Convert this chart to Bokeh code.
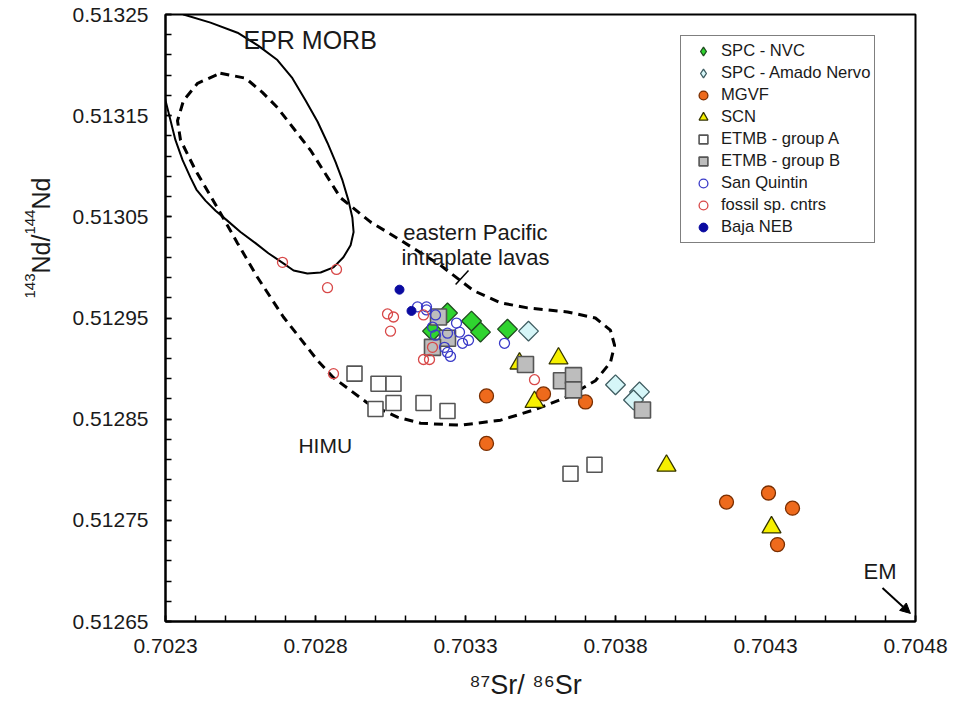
import numpy as np
from bokeh.plotting import figure
from bokeh.layouts import row
from bokeh.models import (Range1d, FixedTicker, PrintfTickFormatter, Legend, LegendItem,
                          Label, Arrow, NormalHead)
from bokeh.embed import file_html
from bokeh.resources import INLINE

FONT = "Liberation Sans"
INK = "#1a1a1a"

# ---------------- data (87Sr/86Sr , 143Nd/144Nd) ----------------
nvc_sr = [0.70324, 0.70332, 0.70335, 0.70344, 0.70319]
nvc_nd = [0.512955, 0.512947, 0.512936, 0.512939, 0.512937]

an_sr = [0.70351, 0.70380, 0.70388, 0.70386]
an_nd = [0.512937, 0.512884, 0.512877, 0.512869]

mgvf_sr = [0.70337, 0.70337, 0.70356, 0.70370, 0.70417, 0.70431, 0.70439, 0.70434]
mgvf_nd = [0.512873, 0.512826, 0.512875, 0.512867, 0.512768, 0.512777, 0.512762, 0.512726]

scn_sr = [0.70361, 0.70348, 0.70353, 0.70397, 0.70432]
scn_nd = [0.512910, 0.512905, 0.512867, 0.512804, 0.512743]

etmbA_sr = [0.70293, 0.70301, 0.70306, 0.70300, 0.70306, 0.70316, 0.70324, 0.70365, 0.70373]
etmbA_nd = [0.512895, 0.512885, 0.512885, 0.512860, 0.512866, 0.512866, 0.512858, 0.512796, 0.512805]

etmbB_sr = [0.70321, 0.70324, 0.70319, 0.70350, 0.70362, 0.70366, 0.70366, 0.70389]
etmbB_nd = [0.512951, 0.512930, 0.512921, 0.512904, 0.512888, 0.512893, 0.512879, 0.512859]

sq_sr = [0.70314, 0.70317, 0.70320, 0.70327, 0.70328, 0.70329, 0.70331, 0.70324, 0.70325,
         0.70320, 0.70319, 0.70324, 0.70343, 0.70323, 0.70317]
sq_nd = [0.512961, 0.512961, 0.512953, 0.512945, 0.512936, 0.512925, 0.512928, 0.512916, 0.512912,
         0.512933, 0.512941, 0.512935, 0.512925, 0.512921, 0.512958]

fos_sr = [0.70269, 0.70287, 0.70284, 0.70304, 0.70306, 0.70305, 0.70286, 0.70316, 0.70316,
          0.70318, 0.70353, 0.70319]
fos_nd = [0.513005, 0.512998, 0.512980, 0.512954, 0.512951, 0.512937, 0.512895, 0.512953, 0.512909,
          0.512909, 0.512889, 0.512921]

neb_sr = [0.70308, 0.70312]
neb_nd = [0.512978, 0.512957]

# EPR MORB field (solid outline; the part beyond the axes is clipped)
epr_sr = [0.70225, 0.70236, 0.70245, 0.70254, 0.70261, 0.702673, 0.702723, 0.702767, 0.702807,
          0.70284, 0.702867, 0.70289, 0.70291, 0.702923, 0.702927, 0.702917, 0.702893, 0.70286,
          0.702817, 0.702773, 0.702727, 0.702693, 0.702643, 0.70260, 0.70255, 0.702507, 0.702467,
          0.702433, 0.702403, 0.702383, 0.702357, 0.702333, 0.702317, 0.70230, 0.702277, 0.70225]
epr_nd = [0.513284, 0.513250, 0.513242, 0.513232, 0.513219, 0.513205, 0.513187, 0.513165, 0.513144,
          0.513123, 0.513104, 0.513086, 0.513066, 0.513049, 0.513035, 0.513022, 0.513010, 0.513000,
          0.512995, 0.512994, 0.512997, 0.513004, 0.513014, 0.513024, 0.513035, 0.513046, 0.513056,
          0.513066, 0.513077, 0.513089, 0.513106, 0.513126, 0.513145, 0.513165, 0.513195, 0.513284]

# eastern Pacific intraplate lavas field (dashed outline)
env_sr = [0.702483, 0.702567, 0.702623, 0.702673, 0.702783, 0.702883, 0.702983, 0.703083, 0.703217,
          0.703327, 0.703417, 0.703507, 0.703640, 0.703733, 0.703783, 0.703797, 0.703783, 0.703733,
          0.703640, 0.703527, 0.703417, 0.703283, 0.703150, 0.703073, 0.702973, 0.702860, 0.702807,
          0.702693, 0.702607, 0.702540, 0.702473, 0.702400, 0.702350, 0.702340, 0.702360, 0.702407,
          0.702483]
env_nd = [0.513192, 0.513187, 0.513173, 0.513158, 0.513116, 0.513069, 0.513045, 0.513027, 0.513002,
          0.512977, 0.512965, 0.512960, 0.512956, 0.512950, 0.512938, 0.512923, 0.512906, 0.512888,
          0.512872, 0.512859, 0.512849, 0.512844, 0.512846, 0.512852, 0.512866, 0.512891, 0.512908,
          0.512951, 0.512990, 0.513024, 0.513059, 0.513096, 0.513126, 0.513145, 0.513165, 0.513182,
          0.513192]

x_ticks = [0.7023, 0.7028, 0.7033, 0.7038, 0.7043, 0.7048]
y_ticks = [0.51265, 0.51275, 0.51285, 0.51295, 0.51305, 0.51315, 0.51325]

H = 708

# ---------------- main figure ----------------
p = figure(width=890, height=H, output_backend="svg", toolbar_location=None,
           x_range=Range1d(0.7023, 0.7048), y_range=Range1d(0.51265, 0.51325),
           min_border_left=105, min_border_right=35, min_border_top=14, min_border_bottom=87,
           background_fill_color="white", border_fill_color="white")
p.xgrid.visible = False
p.ygrid.visible = False
p.outline_line_color = "black"
p.outline_line_width = 2

p.xaxis.ticker = FixedTicker(ticks=x_ticks,
                             minor_ticks=[round(v, 4) for v in np.arange(0.7023, 0.70481, 0.0001)])
p.yaxis.ticker = FixedTicker(ticks=y_ticks,
                             minor_ticks=[round(v, 5) for v in np.arange(0.51265, 0.513251, 0.00002)])
p.xaxis.formatter = PrintfTickFormatter(format="%.4f")
p.yaxis.formatter = PrintfTickFormatter(format="%.5f")
for ax in (p.xaxis[0], p.yaxis[0]):
    ax.axis_line_color = "black"
    ax.axis_line_width = 2
    ax.major_tick_in = 6
    ax.major_tick_out = 0
    ax.minor_tick_in = 6
    ax.minor_tick_out = 0
    ax.major_tick_line_width = 1.5
    ax.minor_tick_line_width = 1.5
    ax.major_tick_line_color = "black"
    ax.minor_tick_line_color = "black"
    ax.major_label_text_font = FONT
    ax.major_label_text_font_size = "21px"
    ax.major_label_text_color = INK
    ax.axis_label_text_font = FONT
    ax.axis_label_text_font_size = "27px"
    ax.axis_label_text_font_style = "normal"
    ax.axis_label_text_color = INK
p.xaxis.major_label_standoff = 17
p.yaxis.major_label_standoff = 17
p.xaxis.axis_label = "\u2078\u2077Sr/ \u2078\u2076Sr\u00a0\u00a0\u00a0\u00a0"
p.xaxis.axis_label_standoff = 14

# ---------------- fields ----------------
p.line(epr_sr, epr_nd, line_color="black", line_width=2)
p.line(env_sr, env_nd, line_color="black", line_width=3, line_dash="9 6")

# ---------------- samples ----------------
r_scn = p.scatter(scn_sr, scn_nd, marker="triangle", size=19, fill_color="#f6f000",
                  line_color="#333300", line_width=1.3)
r_mgvf = p.scatter(mgvf_sr, mgvf_nd, marker="circle", size=14, fill_color="#ee6a1c",
                   line_color="#7a2e00", line_width=1.3)
# diamond-shaped legend swatches (hidden underneath the plotted diamonds)
k_nvc = p.scatter(nvc_sr, nvc_nd, marker="diamond", size=13, fill_color="#2fd42f",
                  line_color="#1f4a1f", line_width=1.3)
k_an = p.scatter(an_sr, an_nd, marker="diamond", size=13, fill_color="#d6f6f8",
                 line_color="#3e5c60", line_width=1.3)
r_nvc = p.scatter(nvc_sr, nvc_nd, marker="square", angle=np.pi / 4, size=14, fill_color="#2fd42f",
                  line_color="#1f4a1f", line_width=1.3)
r_an = p.scatter(an_sr, an_nd, marker="square", angle=np.pi / 4, size=14, fill_color="#d6f6f8",
                 line_color="#3e5c60", line_width=1.3)
r_a = p.scatter(etmbA_sr, etmbA_nd, marker="square", size=15, fill_color="white",
                line_color="#555555", line_width=1.6)
r_b = p.scatter(etmbB_sr, etmbB_nd, marker="square", size=16, fill_color="#bdbdbd",
                line_color="#555555", line_width=1.6)
r_sq = p.scatter(sq_sr, sq_nd, marker="circle", size=10, fill_color=None,
                 line_color="#3a3ac8", line_width=1.3)
r_fos = p.scatter(fos_sr, fos_nd, marker="circle", size=10, fill_color=None,
                  line_color="#d84848", line_width=1.3)
r_neb = p.scatter(neb_sr, neb_nd, marker="circle", size=9, fill_color="#0a0aa0",
                  line_color="#0a0aa0", line_width=1)

legend = Legend(items=[
    LegendItem(label="SPC - NVC", renderers=[k_nvc]),
    LegendItem(label="SPC - Amado Nervo", renderers=[k_an]),
    LegendItem(label="MGVF", renderers=[r_mgvf]),
    LegendItem(label="SCN", renderers=[r_scn]),
    LegendItem(label="ETMB - group A", renderers=[r_a]),
    LegendItem(label="ETMB - group B", renderers=[r_b]),
    LegendItem(label="San Quintin", renderers=[r_sq]),
    LegendItem(label="fossil sp. cntrs", renderers=[r_fos]),
    LegendItem(label="Baja NEB", renderers=[r_neb]),
], location=(515, 378), glyph_width=36, glyph_height=22, spacing=0, padding=4,
    label_standoff=0, label_height=20, label_text_font=FONT, label_text_font_size="16.6px",
    label_text_color=INK, border_line_color="black", border_line_width=1.5,
    background_fill_color="white", background_fill_alpha=1.0, margin=0)
p.add_layout(legend)

# ---------------- annotations ----------------
def txt(x, y, t, size, align="left"):
    p.add_layout(Label(x=x, y=y, text=t, text_font=FONT, text_font_size=size,
                       text_color=INK, text_align=align, text_baseline="alphabetic"))

txt(0.70256, 0.513225, "EPR MORB", "25px")
txt(0.703333, 0.513035, "eastern Pacific", "22px", "center")
txt(0.703333, 0.513010, "intraplate lavas", "22px", "center")
txt(0.702743, 0.512824, "HIMU", "21px")
txt(0.704627, 0.512699, "EM", "22px")

# leader line for the eastern Pacific field label
p.add_layout(Arrow(end=None, x_start=0.70331, y_start=0.512997, x_end=0.703267, y_end=0.512983,
                   line_color="black", line_width=1.5))
# arrow pointing towards EM
p.add_layout(Arrow(end=NormalHead(size=10, fill_color="black", line_color="black"),
                   x_start=0.70469, y_start=0.512683, x_end=0.704783, y_end=0.512658,
                   line_color="black", line_width=2))

# ---------------- y-axis title strip: 143Nd/144Nd with real superscripts ----------------
yt = figure(width=60, height=H, output_backend="svg", toolbar_location=None,
            x_axis_type=None, y_axis_type=None, min_border=0, outline_line_color=None,
            x_range=Range1d(0, 1), y_range=Range1d(0, 1), border_fill_color="white")
yt.grid.visible = False

def vtxt(sx, sy, t, size):
    yt.add_layout(Label(x=sx, y=sy, x_units="screen", y_units="screen", text=t, text_font=FONT,
                        text_font_size=size, text_color=INK, text_align="left",
                        text_baseline="alphabetic", angle=np.pi / 2))

vtxt(29, 323.0, "143", "15px")
vtxt(40, 348.0, "Nd/", "25px")
vtxt(29, 386.9, "144", "15px")
vtxt(40, 411.9, "Nd", "25px")

layout = row(yt, p)
open("out.html", "w").write(file_html(layout, INLINE))
